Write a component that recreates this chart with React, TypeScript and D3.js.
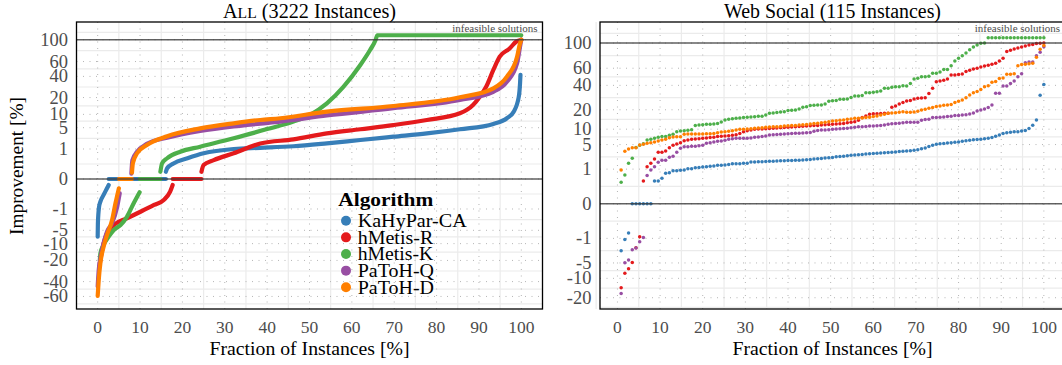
import React from 'react';
import * as d3 from 'd3';

// ---------- categories / styling keys ----------
const algorithms = ['KaHyPar-CA', 'hMetis-R', 'hMetis-K', 'PaToH-Q', 'PaToH-D'];
const colors = ['#377EB8', '#E41A1C', '#4DAF4A', '#984EA3', '#FF7F00'];

// ---------- ticks ----------
const xTicks = [0, 10, 20, 30, 40, 50, 60, 70, 80, 90, 100];
const xMinorTicks = [-5, 5, 15, 25, 35, 45, 55, 65, 75, 85, 95, 105];
const allYTicks = [-60, -40, -20, -10, -5, -1, 0, 1, 5, 10, 20, 40, 60, 100];
const webYTicks = [-20, -10, -5, -1, 0, 1, 5, 10, 20, 40, 60, 100];

// ---------- Panel 1: All (3222 instances) – read profile points (x = % of instances) ----------
// NaN separates the negative / zero / positive pieces of a profile
const allBlueX = [0, 0.05, 0.33, 0.64, 1.4, 2.2, 2.6, NaN, 2.6, 16.1, NaN, 16.1, 16.4, 17.9, 21.2, 25, 32.1, 38.4, 46.2, 54.1, 62, 69.8, 77.7, 85.5, 93.4, 96.6, 98.2, 99.4, 99.7, 99.8];
const allBlueY = [-7.1, -3.2, -0.79, -0.43, -0.15, -0.03, -0.008, NaN, 0, 0, NaN, 0.014, 0.046, 0.14, 0.33, 0.63, 1.0, 1.12, 1.3, 1.68, 2.2, 2.8, 3.5, 4.55, 6.2, 8.3, 11.3, 20.6, 32.5, 41.7];

const allRedX = [0.4, 0.64, 1.4, 2.2, 3.8, 6.9, 10.1, 13.3, 15.6, 17.1, 17.7, NaN, 17.7, 24.5, NaN, 24.5, 25, 27.4, 32.1, 38.4, 46.2, 54.1, 62, 69.8, 77.7, 85.5, 88.6, 90.2, 91.7, 93.4, 94.9, 97.3, 98.8, 99.8, 100];
const allRedY = [-25, -19.7, -9.8, -5.9, -3.6, -2.25, -1.3, -0.65, -0.34, -0.076, -0.008, NaN, 0, 0, NaN, 0.014, 0.1, 0.25, 0.63, 1.65, 2.3, 3.5, 4.55, 5.8, 7.6, 10.5, 15, 20.6, 29, 48, 67.7, 82.7, 96, 99.5, 100];

const allGreenX = [0.5, 0.64, 1.4, 2.6, 3.8, 5.4, 6.9, 8.5, 9.9, NaN, 9.9, 14.8, NaN, 14.8, 15.2, 16.4, 19.5, 24.2, 32.1, 40, 46.2, 50.1, 54.1, 58, 62, 64.3, 65.6, 66.0, 100];
const allGreenY = [-20, -15.2, -10.6, -7.1, -4.9, -3.6, -2.0, -0.53, -0.087, NaN, 0, 0, NaN, 0.014, 0.14, 0.33, 0.75, 1.25, 2.5, 4.6, 7.0, 9.7, 16, 29, 54.9, 79.5, 99.5, 110, 110];

const allPurpleX = [0, 0.25, 0.64, 1.4, 2.2, 3.4, 4.6, 5.2, NaN, 5.2, 7.95, NaN, 7.95, 8.2, 9.3, 11.6, 16.4, 24.2, 32.1, 38.4, 43.1, 54.1, 69.8, 85.5, 93.4, 96.6, 99, 99.7, 100];
const allPurpleY = [-46, -27.9, -18.5, -9.8, -5.4, -3.2, -0.79, -0.11, NaN, 0, 0, NaN, 0.006, 0.25, 0.75, 1.6, 2.6, 4.1, 5.4, 6.3, 7.0, 9.5, 13.1, 18.3, 24.6, 34, 57.4, 85.7, 100];

const allOrangeX = [0, 0.25, 0.64, 1.4, 2.2, 3.4, 4.2, 5, NaN, 5, 8.1, NaN, 8.1, 8.3, 9.3, 11.6, 16.4, 24.2, 32.1, 38.4, 43.1, 54.1, 69.8, 85.5, 93.4, 96.6, 99, 99.7, 100];
const allOrangeY = [-59, -38, -22, -11.5, -6.5, -2.56, -0.53, -0.03, NaN, 0, 0, NaN, 0.01, 0.14, 0.63, 1.45, 2.9, 4.8, 6.4, 7.6, 8.3, 11.3, 14.4, 20.2, 27.6, 39.7, 67.7, 92.5, 100];

// ---------- Panel 2: Web Social (115 instances) – sorted improvement per instance ----------
const webKaHyPar = [
  -2.5, -1.1, -0.6,
  0, 0, 0, 0, 0, 0,
  0.28, 0.28, 0.4, 0.68, 0.72, 0.87, 0.87, 0.9, 0.92,
  1.04, 1.04, 1.13, 1.16, 1.19, 1.22, 1.26, 1.29, 1.37, 1.37, 1.4, 1.47, 1.54, 1.54, 1.54, 1.59, 1.59, 1.75, 1.75, 1.79,
  1.8, 1.82, 1.84, 1.86, 1.88, 1.9, 1.92, 1.94, 1.96, 1.98, 2.0, 2.02,
  2.05, 2.1, 2.15, 2.2, 2.25, 2.3, 2.35,
  2.4, 2.5, 2.55, 2.6, 2.65, 2.74,
  2.8, 2.85, 2.9, 2.95, 3.0, 3.05, 3.1,
  3.15, 3.2, 3.25, 3.3, 3.35, 3.45, 3.5, 3.55,
  3.6, 3.7, 3.8, 4.0, 4.2, 4.5, 4.8, 5.06,
  5.2, 5.3, 5.4, 5.5, 5.6, 5.7, 5.9, 6.0, 6.2,
  6.3, 6.4, 6.5, 6.6, 6.75, 7.0, 7.4, 7.8, 8.4,
  8.6, 8.8, 9.0, 9.0, 9.3, 9.5,
  10.3, 11.7, 14.2, 30.8, 41,
];
const webHMetisR = [
  -14.3, -8.1, -6.6, -4.86, -2.05, -0.87,
  0.28, 1.22, 1.59, 2.16,
  3.28, 3.28, 3.53, 4.24, 4.8, 5.14, 5.47,
  6.03, 6.24, 6.45, 6.54, 6.64,
  6.75, 6.86, 6.97, 7.08, 7.3, 7.41, 7.53, 7.59, 7.76, 7.88,
  8.4, 9.0, 9.4, 9.66, 9.94, 10.08,
  10.1, 10.2, 10.3, 10.4, 10.5, 10.6, 10.7, 10.8,
  10.9, 11.0, 11.1, 11.2, 11.3, 11.4, 11.5, 11.6, 11.8,
  11.9, 12.0, 12.1, 12.2, 12.3, 12.5, 12.8, 13.0, 13.3,
  14.0, 15.5, 16.3,
  17.3, 17.5, 17.6, 17.7, 17.8, 17.9,
  21.6, 22.5, 23.9, 25.0,
  26.1, 26.5, 27.7, 28.3, 28.5, 28.8, 32.4, 37.1, 43.8, 44.5, 45.5, 46.8, 51.5, 51.5, 52, 52.5,
  55.6, 57.5, 58.9, 60, 61.6, 63, 64, 65.3, 67, 70, 74.2, 84.9, 87, 89.4, 91, 93, 94.5, 96.5, 97.5, 99, 99.6, 100,
];
const webHMetisK = [
  0.24, 0.57, 1.59, 2.26,
  4.3, 4.8, 5.2,
  6.24, 6.45, 6.75, 7.08, 7.3, 7.3, 7.76, 8.1,
  9.0, 9.27, 9.4, 9.53, 9.8,
  11.6, 11.8, 11.9, 12.1, 12.1, 12.2, 12.5, 13.2, 14.2, 14.5, 14.8, 15.0, 15.2, 15.4, 15.6, 15.7, 15.9, 16.1,
  16.2, 16.8, 17.8, 18.0, 18.3, 18.6, 18.8, 19.5, 19.7, 19.9, 20.5, 21.6, 22.0, 22.8, 23.0, 23.2, 23.2, 24,
  26.0, 26.4, 26.6, 27.5, 27.5, 27.8, 29.0, 30.1, 30.1, 30.5, 33.0, 33.0, 33.5, 33.9, 34.5, 37.1, 37.1, 38.0, 38.7, 38.7, 39.5,
  39.4, 42, 46.7, 47.5, 49.4, 49.4, 50, 53.6, 53.6, 55, 58.4, 58.4, 63.5, 70, 74.2, 78, 82.5, 88, 93, 96.5, 99.6, 100,
  110, 110, 110, 110, 110, 110, 110, 110, 110, 110, 110, 110, 110, 110, 110, 110,
];
const webPaToHQ = [
  -17.4, -4.96, -4.31, -2.35, -2.1, -1.33, -0.92,
  0.55, 0.92, 1.22, 1.71, 1.97, 1.97, 2.41, 2.57, 3.28, 4.1,
  4.47, 4.47, 4.57, 4.57, 4.71, 4.81, 5.32, 5.48, 5.67, 5.86, 5.95, 6.15, 6.45, 6.63, 6.75, 6.75, 6.75, 6.75, 6.85, 7.07, 7.17,
  7.3, 7.5, 7.8, 7.9, 8.0, 8.1, 8.17, 8.3, 8.4, 8.42, 8.42, 8.5, 8.6, 8.7, 9.2, 9.5, 9.66, 9.7, 9.8, 10.0,
  10.1, 10.2, 10.3, 10.4, 10.6, 10.8, 11.0, 11.0, 11.1, 11.3, 11.3, 11.4, 11.5, 11.8, 12.1, 12.3, 12.5, 12.6, 12.8,
  13.0, 13.0, 13.0, 13.1, 14.0, 14.4, 14.6, 15.4, 15.5, 15.6, 15.8, 16.0, 16.2, 16.5, 16.6, 16.8, 17.0, 17.4, 18.0, 19.2, 19.8, 20.5,
  21.5, 23.2, 32.5, 32.5, 39.3, 39.3, 42, 44.6, 49.4, 53, 67.6, 68.6, 68.6, 78, 83.8, 93.4,
];
const webPaToHD = [
  0.92, 3.47,
  3.95, 4.24, 4.24, 4.9, 5.06,
  5.32, 5.48, 5.67, 5.95, 6.24, 6.45,
  6.95, 7.17, 7.28, 7.28,
  8.07, 8.17, 8.2, 8.2, 8.2, 8.2, 8.25, 8.3, 8.4,
  8.6, 8.9, 9.0, 9.15, 9.4, 9.66, 9.94, 9.94, 10.1, 10.2, 10.4, 10.5,
  10.6, 10.8, 10.9, 11.0, 11.0, 11.1, 11.3, 11.4, 11.5, 11.6, 11.8, 11.9, 12.0, 12.2, 12.4, 12.6, 12.8, 13.0, 13.3, 13.6,
  13.8, 14.0, 14.2, 14.5, 14.7, 15.0, 15.0, 15.2, 15.4, 15.6, 16.0, 16.3, 16.8, 17.3, 17.8, 18.0, 18.2, 18.5, 18.8,
  18.4, 18.4, 18.6, 19.0, 19.9, 20.3, 21.0, 21.5, 22.1, 22.5, 23.0, 23.2, 23.5, 25.0, 26.0, 27.0, 28.7, 31.0, 33.0, 34.0, 36.0, 38.6,
  39.5, 43.2, 44.0, 47.4, 48.0, 52.3, 52.3, 53.0, 63.5, 65.0, 65.5, 66.0, 67.0, 75.7, 88.7, 95.4,
];

const allSeriesX = [allBlueX, allRedX, allGreenX, allPurpleX, allOrangeX];
const allSeriesY = [allBlueY, allRedY, allGreenY, allPurpleY, allOrangeY];
const webSeries = [webKaHyPar, webHMetisR, webHMetisK, webPaToHQ, webPaToHD];

// ---------- layout ----------
const W = 1062;
const H = 365;
const TOP = 22;
const BOTTOM = 309;
const FONT = "'Liberation Serif', 'Times New Roman', serif";
const TICK_COLOR = '#4d4d4d';

const xAll = d3.scaleLinear().domain([-5, 105]).range([76.5, 542.5]);
const yAll = d3.scalePow().exponent(1 / 3).domain([-81.36, 143.3]).range([BOTTOM, TOP]);
const xWeb = d3.scaleLinear().domain([-4.09, 104.96]).range([600, 1065]);
const yWeb = d3.scalePow().exponent(1 / 3).domain([-28.1, 144.7]).range([BOTTOM, TOP]);

const cbrt = (v: number) => (v < 0 ? -Math.pow(-v, 1 / 3) : Math.pow(v, 1 / 3));
const cube = (v: number) => v * v * v;

function minorBreaks(ticks: number[]) {
  const t = ticks.map(cbrt);
  const bd = t[1] - t[0];
  const ext = [t[0] - bd, ...t, t[t.length - 1] + bd];
  const out: number[] = [];
  for (let i = 0; i < ext.length - 1; i++) out.push(cube((ext[i] + ext[i + 1]) / 2));
  return out;
}

type PanelProps = {
  id: string;
  x: d3.ScaleLinear<number, number>;
  y: d3.ScalePower<number, number>;
  yTicks: number[];
  title: React.ReactNode;
  titleLength: number;
  children: React.ReactNode;
};

function Panel({ id, x, y, yTicks, title, titleLength, children }: PanelProps) {
  const [l, r] = x.range();
  const visR = Math.min(r, W + 3);
  const cx = (l + visR) / 2;
  const minors = minorBreaks(yTicks).filter((v) => y(v) >= TOP && y(v) <= BOTTOM);
  return (
    <g>
      <defs>
        <clipPath id={id}>
          <rect x={l} y={TOP} width={r - l} height={BOTTOM - TOP} />
        </clipPath>
      </defs>
      <rect x={l} y={TOP} width={r - l} height={BOTTOM - TOP} fill="#fff" />
      {/* minor grid */}
      {xMinorTicks.map((t) => (
        <line key={'xm' + t} x1={x(t)} x2={x(t)} y1={TOP} y2={BOTTOM} stroke="#ebebeb" strokeWidth={1.2} />
      ))}
      {minors.map((v, i) => (
        <line key={'ym' + i} x1={l} x2={r} y1={y(v)} y2={y(v)} stroke="#ebebeb" strokeWidth={1.2} />
      ))}
      {/* major grid (dotted) */}
      {xTicks.map((t) => (
        <line key={'xM' + t} x1={x(t)} x2={x(t)} y1={TOP} y2={BOTTOM} stroke="#b5b5b5" strokeWidth={1} strokeDasharray="1 5.5" />
      ))}
      {yTicks.map((t) => (
        <line key={'yM' + t} x1={l} x2={r} y1={y(t)} y2={y(t)} stroke="#b5b5b5" strokeWidth={1} strokeDasharray="1 5.5" />
      ))}
      <g clipPath={`url(#${id})`}>
        {children}
        <line x1={l} x2={r} y1={y(0)} y2={y(0)} stroke="#3a3a3a" strokeOpacity={0.8} strokeWidth={1.6} />
        <line x1={l} x2={r} y1={y(100)} y2={y(100)} stroke="#3a3a3a" strokeOpacity={0.8} strokeWidth={1.6} />
        <text x={Math.min(r - 5, W - 1)} y={32.3} textAnchor="end" fontSize={11} fill={TICK_COLOR}>
          infeasible solutions
        </text>
      </g>
      <rect x={l} y={TOP} width={r - l} height={BOTTOM - TOP} fill="none" stroke="#000" strokeWidth={1.3} />
      {/* axes labels */}
      {xTicks.map((t) => (
        <text key={'xl' + t} x={x(t)} y={332.5} textAnchor="middle" fontSize={17.5} fill={TICK_COLOR}>
          {t}
        </text>
      ))}
      {yTicks.map((t) => (
        <text key={'yl' + t} x={l - 8.5} y={y(t) + 6} textAnchor="end" fontSize={18.5} fill={TICK_COLOR}>
          {t}
        </text>
      ))}
      <text x={cx} y={18.3} textAnchor="middle" fontSize={20} textLength={titleLength} lengthAdjust="spacingAndGlyphs">
        {title}
      </text>
      <text x={cx} y={355} textAnchor="middle" fontSize={19.5} textLength={200} lengthAdjust="spacingAndGlyphs">
        Fraction of Instances [%]
      </text>
    </g>
  );
}

const legendWidths = [109, 75.6, 75.6, 76.3, 76.3];

export default function App() {
  const line = d3
    .line<[number, number]>()
    .defined((d) => !isNaN(d[0]) && !isNaN(d[1]))
    .x((d) => xAll(d[0]))
    .y((d) => yAll(d[1]))
    .curve(d3.curveMonotoneX);

  return (
    <svg width={W} height={H} style={{ position: 'absolute', left: 0, top: 0, background: '#fff' }} fontFamily={FONT}>
      <rect x={0} y={0} width={W} height={H} fill="#fff" />
      <Panel
        id="clipAll"
        x={xAll}
        y={yAll}
        yTicks={allYTicks}
        titleLength={173}
        title={
          <>
            <tspan>A</tspan>
            <tspan fontSize={15.5}>LL</tspan>
            <tspan> (3222 Instances)</tspan>
          </>
        }
      >
        {allSeriesX.map((xs, k) => {
          const pts = xs.map((xv, i) => [xv, allSeriesY[k][i]] as [number, number]);
          return (
            <path
              key={'all' + k}
              d={line(pts) || ''}
              fill="none"
              stroke={colors[k]}
              strokeWidth={4.2}
              strokeLinecap="round"
              strokeLinejoin="round"
            />
          );
        })}
      </Panel>
      <Panel id="clipWeb" x={xWeb} y={yWeb} yTicks={webYTicks} titleLength={217} title="Web Social (115 Instances)">
        {webSeries.map((vals, k) => (
          <g key={'web' + k} fill={colors[k]}>
            {vals.map((v, i) => (
              <circle key={i} cx={xWeb(((i + 1) / vals.length) * 100)} cy={yWeb(v)} r={1.75} />
            ))}
          </g>
        ))}
      </Panel>
      {/* y axis title */}
      <text
        transform="translate(22.7,166) rotate(-90)"
        textAnchor="middle"
        fontSize={19.5}
        textLength={138}
        lengthAdjust="spacingAndGlyphs"
      >
        Improvement [%]
      </text>
      {/* legend */}
      <g>
        <text x={338.3} y={206} fontSize={19} fontWeight="bold" textLength={95} lengthAdjust="spacingAndGlyphs">
          Algorithm
        </text>
        {algorithms.map((a, k) => {
          const cy = 220.7 + k * 16.65;
          return (
            <g key={a}>
              <circle cx={346} cy={cy} r={5} fill={colors[k]} />
              <text x={357.7} y={cy + 6.2} fontSize={19} textLength={legendWidths[k]} lengthAdjust="spacingAndGlyphs">
                {a}
              </text>
            </g>
          );
        })}
      </g>
    </svg>
  );
}
